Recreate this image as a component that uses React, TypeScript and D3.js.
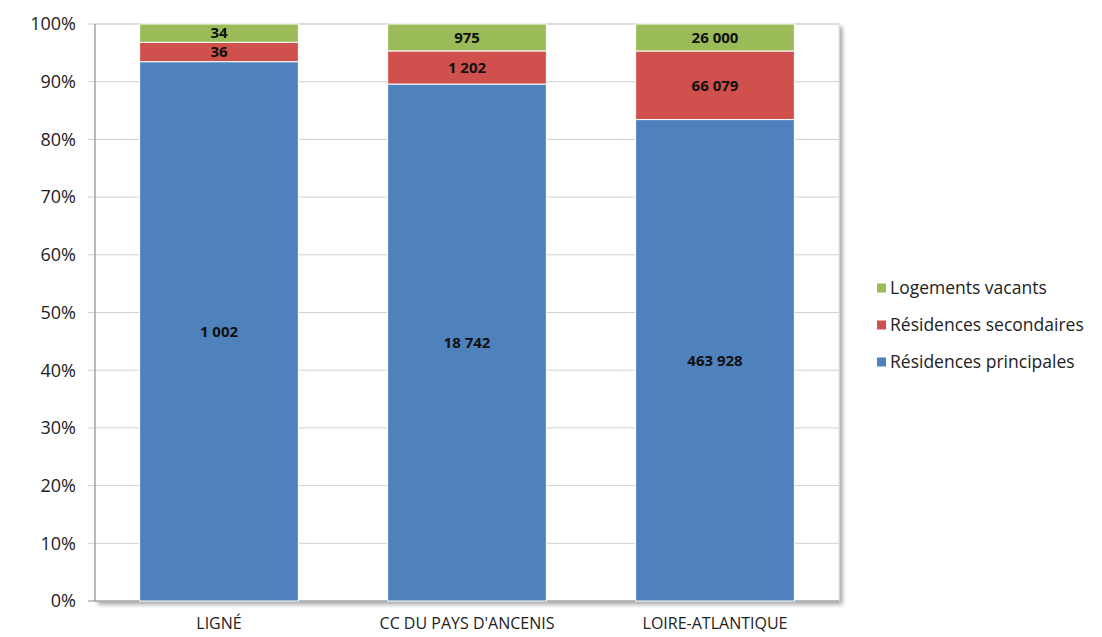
import React from "react";
import * as d3 from "d3";

const categories = ["LIGNÉ", "CC DU PAYS D'ANCENIS", "LOIRE-ATLANTIQUE"];
const seriesNames = ["Résidences principales", "Résidences secondaires", "Logements vacants"];
const principales = [1002, 18742, 463928];
const secondaires = [36, 1202, 66079];
const vacants = [34, 975, 26000];
const yTicks = [0, 0.1, 0.2, 0.3, 0.4, 0.5, 0.6, 0.7, 0.8, 0.9, 1];
const colors = ["#4F81BD", "#D0504D", "#9BBB59"];

const W = 1102, H = 637;
const left = 95, right = 839, top = 24, bottom = 601;
const font = "'Open Sans', 'Liberation Sans', sans-serif";

export default function App() {
  const rows = categories.map((c, i) => ({
    cat: c,
    "Résidences principales": principales[i],
    "Résidences secondaires": secondaires[i],
    "Logements vacants": vacants[i],
  }));
  const stack = d3.stack<any>().keys(seriesNames).offset(d3.stackOffsetExpand);
  const stacked = stack(rows);
  const x = d3.scaleBand().domain(categories).range([left, right]).paddingInner(0.36).paddingOuter(0.18);
  const y = d3.scaleLinear().domain([0, 1]).range([bottom, top]);
  const fmt = (v: number) => d3.format(",")(v).replace(/,/g, "\u00A0");
  const legendOrder = [2, 1, 0];
  return (
    <svg width={W} height={H} style={{ position: "absolute", left: 0, top: 0, background: "#fff" }}>
      <defs>
        <filter id="sh" x="-5%" y="-5%" width="110%" height="110%">
          <feDropShadow dx="3" dy="3" stdDeviation="2" floodColor="#000" floodOpacity="0.35" />
        </filter>
      </defs>
      <rect x={left} y={top} width={right - left} height={bottom - top} fill="#fff" stroke="#d9d9d9" filter="url(#sh)" />
      {yTicks.map((t) => (
        <g key={t}>
          <line x1={left - 7} x2={right} y1={y(t)} y2={y(t)} stroke={t === 0 ? "#888" : "#d0d0d0"} strokeWidth={1} />
          <text x={76} y={y(t)} dy="0.35em" textAnchor="end" fontFamily={font} fontSize={18} fill="#222">
            {Math.round(t * 100)}%
          </text>
        </g>
      ))}
      <line x1={left} x2={left} y1={top} y2={bottom} stroke="#888" />
      {stacked.map((s, si) => (
        <g key={s.key}>
          {s.map((d, i) => {
            const x0 = x(categories[i])!;
            const y0 = y(d[1]);
            const h = y(d[0]) - y(d[1]);
            return (
              <rect key={i} x={x0} y={y0} width={x.bandwidth()} height={h} fill={colors[si]} stroke="#fff" strokeWidth={1} />
            );
          })}
        </g>
      ))}
      {stacked.map((s, si) => (
        <g key={s.key + "l"}>
          {s.map((d, i) => {
            const vals = [principales, secondaires, vacants][si];
            const cx = x(categories[i])! + x.bandwidth() / 2;
            const cy = (y(d[0]) + y(d[1])) / 2;
            return (
              <text key={i} x={cx} y={cy} dy="0.35em" textAnchor="middle" fontFamily={font} fontWeight="bold" fontSize={15} fill="#111">
                {fmt(vals[i])}
              </text>
            );
          })}
        </g>
      ))}
      {categories.map((c) => (
        <text key={c} x={x(c)! + x.bandwidth() / 2} y={623} dy="0.35em" textAnchor="middle" fontFamily={font} fontSize={16} fill="#222">
          {c}
        </text>
      ))}
      {legendOrder.map((si, k) => (
        <g key={si} transform={`translate(877, ${288 + k * 37})`}>
          <rect x={0} y={-4.5} width={9} height={9} fill={colors[si]} />
          <text x={13} y={0} dy="0.35em" fontFamily={font} fontSize={17.5} fill="#222">
            {seriesNames[si]}
          </text>
        </g>
      ))}
    </svg>
  );
}
